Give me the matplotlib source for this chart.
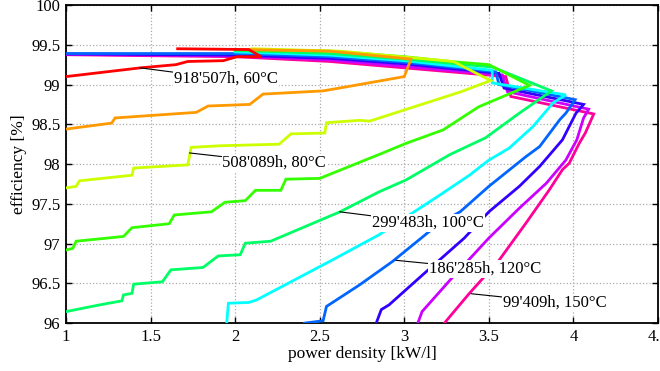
import matplotlib
matplotlib.use('Agg')
import matplotlib.pyplot as plt
from matplotlib.ticker import FuncFormatter, MultipleLocator

plt.rcParams['font.family'] = ['Liberation Serif', 'DejaVu Serif']
plt.rcParams['font.size'] = 12

# ── data: Pareto fronts (power density [kW/l], efficiency [%]) ──
x_60 = [1.0, 1.44, 1.65, 1.72, 1.93, 2.01, 2.155, 2.08, 1.66]
y_60 = [99.10, 99.21, 99.25, 99.29, 99.30, 99.35, 99.35, 99.44, 99.45]

x_70 = [1.0, 1.27, 1.29, 1.77, 1.84, 2.086, 2.165, 2.52, 2.735, 3.0, 3.04, 2.56, 2.05]
y_70 = [98.44, 98.515, 98.58, 98.65, 98.73, 98.75, 98.88, 98.92, 99.0, 99.10, 99.32, 99.42, 99.44]

x_80 = [1.0, 1.06, 1.08, 1.39, 1.40, 1.72, 1.74, 1.91, 2.26, 2.33, 2.53, 2.54, 2.735, 2.795,
        3.336, 3.51, 3.29, 2.62, 2.1]
y_80 = [97.70, 97.72, 97.79, 97.86, 97.95, 97.99, 98.21, 98.23, 98.25, 98.38, 98.39, 98.52, 98.55, 98.54,
        98.91, 99.05, 99.29, 99.42, 99.45]

x_90 = [1.0, 1.04, 1.06, 1.34, 1.39, 1.61, 1.64, 1.86, 1.94, 2.06, 2.12, 2.27, 2.30, 2.50,
        2.85, 3.01, 3.23, 3.44, 3.74, 3.50, 3.27, 3.0, 2.56, 2.0]
y_90 = [96.92, 96.94, 97.03, 97.09, 97.20, 97.25, 97.36, 97.40, 97.52, 97.54, 97.67, 97.67, 97.81, 97.82,
        98.12, 98.26, 98.43, 98.72, 98.99, 99.25, 99.29, 99.35, 99.42, 99.44]

x_100 = [1.0, 1.20, 1.33, 1.34, 1.39, 1.40, 1.57, 1.62, 1.81, 1.90, 2.03, 2.06, 2.21, 2.62,
         2.85, 3.01, 3.27, 3.48, 3.68, 3.87, 3.52, 3.0, 2.56, 2.0]
y_100 = [96.145, 96.23, 96.28, 96.355, 96.375, 96.49, 96.52, 96.67, 96.70, 96.845, 96.86, 97.005, 97.03, 97.40,
         97.65, 97.80, 98.12, 98.33, 98.64, 98.92, 99.22, 99.32, 99.39, 99.43]

x_110 = [1.95, 1.96, 2.08, 2.125, 2.58, 2.85, 3.21, 3.385, 3.50, 3.62, 3.76, 3.88, 3.955,
         3.52, 3.52, 3.0, 2.56, 2.0]
y_110 = [96.0, 96.25, 96.26, 96.29, 96.80, 97.11, 97.61, 97.86, 98.05, 98.20, 98.47, 98.77, 98.87,
         99.02, 99.18, 99.30, 99.37, 99.41]

x_120 = [2.41, 2.52, 2.54, 2.735, 2.93, 3.21, 3.33, 3.50, 3.72, 3.80, 3.92, 3.955, 4.01,
         3.56, 3.54, 3.0, 2.56, 2.0, 1.0]
y_120 = [96.0, 96.03, 96.21, 96.48, 96.775, 97.26, 97.40, 97.72, 98.095, 98.22, 98.56, 98.64, 98.81,
         99.0, 99.16, 99.28, 99.35, 99.39, 99.39]

x_130 = [2.834, 2.864, 2.91, 3.11, 3.355, 3.50, 3.68, 3.80, 3.935, 4.015, 4.06,
         3.59, 3.56, 3.0, 2.56, 2.0, 1.0]
y_130 = [96.0, 96.17, 96.23, 96.61, 97.07, 97.40, 97.72, 97.97, 98.305, 98.64, 98.75,
         98.955, 99.14, 99.26, 99.33, 99.37, 99.385]

x_140 = [3.08, 3.105, 3.27, 3.50, 3.68, 3.84, 3.955, 4.02, 4.06, 4.09,
         3.61, 3.58, 3.0, 2.56, 2.0, 1.0]
y_140 = [96.0, 96.145, 96.54, 97.07, 97.445, 97.76, 98.05, 98.305, 98.58, 98.69,
         98.91, 99.12, 99.23, 99.31, 99.36, 99.38]

x_150 = [3.237, 3.286, 3.385, 3.56, 3.72, 3.857, 3.935, 3.975, 4.034, 4.07, 4.12,
         3.63, 3.60, 3.0, 2.56, 2.0, 1.0]
y_150 = [96.0, 96.125, 96.375, 96.79, 97.26, 97.675, 97.93, 98.01, 98.26, 98.39, 98.63,
         98.85, 99.10, 99.21, 99.29, 99.35, 99.375]

colors = ['#ff0000', '#ff9900', '#ccff00', '#33ff00', '#00ff66',
          '#00ffff', '#0066ff', '#3300ff', '#cc00ff', '#ff0099']
xs = [x_60, x_70, x_80, x_90, x_100, x_110, x_120, x_130, x_140, x_150]
ys = [y_60, y_70, y_80, y_90, y_100, y_110, y_120, y_130, y_140, y_150]

# labels: (text, point on curve, text position)
label_texts = ["918'507h, 60°C", "508'089h, 80°C", "299'483h, 100°C",
               "186'285h, 120°C", "99'409h, 150°C"]
label_xy = [(1.437, 99.21), (1.73, 98.14), (2.617, 97.40), (2.95, 96.79), (3.395, 96.37)]
label_pos = [(1.64, 99.07), (1.925, 98.02), (2.81, 97.26), (3.145, 96.68), (3.585, 96.26)]

# ── plot ─────────────────────────────────────────────────────
fig = plt.figure(figsize=(6.6, 3.71), dpi=100)
ax = fig.add_axes([0.1, 0.129, 0.897, 0.8575])

n = len(xs)
for i in range(n):
    ax.plot(xs[i], ys[i], color=colors[i], linewidth=2.0, zorder=3 + (n - i) * 0.01,
            solid_joinstyle='miter')

for txt, xy, pos in zip(label_texts, label_xy, label_pos):
    ax.annotate(txt, xy=xy, xytext=pos, ha='left', va='center', fontsize=12,
                bbox=dict(boxstyle='square,pad=0.05', fc='white', ec='none'),
                arrowprops=dict(arrowstyle='-', color='black', lw=0.8,
                                shrinkA=0, shrinkB=0),
                zorder=10)

ax.set_xlim(1, 4.5)
ax.set_ylim(96, 100)
ax.xaxis.set_major_locator(MultipleLocator(0.5))
ax.yaxis.set_major_locator(MultipleLocator(0.5))
fmt = FuncFormatter(lambda v, p: f"{v:g}")
ax.xaxis.set_major_formatter(fmt)
ax.yaxis.set_major_formatter(fmt)
ax.tick_params(direction='in', length=4, width=1, top=True, right=True, labelsize=12, pad=4)
ax.grid(True, linestyle=':', color='#aaaaaa', linewidth=0.9)
ax.set_axisbelow(True)
for s in ax.spines.values():
    s.set_linewidth(1.3)

ax.set_xlabel("power density [kW/l]", fontsize=12.5, labelpad=1)
ax.set_ylabel("efficiency [%]", fontsize=12.5, labelpad=3)

plt.savefig("out.png", dpi=100)
